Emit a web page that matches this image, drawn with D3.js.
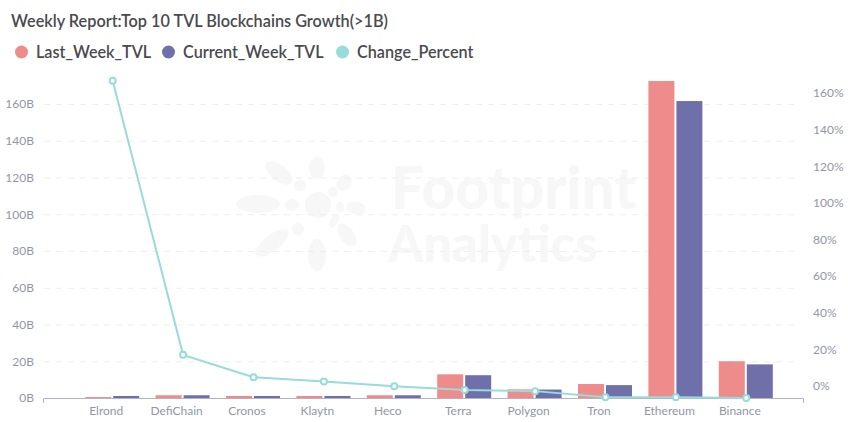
<!DOCTYPE html>
<html><head><meta charset="utf-8">
<script src="https://d3js.org/d3.v7.min.js"></script>
<style>
html,body{margin:0;padding:0;background:#fff;overflow:hidden}
svg{display:block;font-family:Lato,sans-serif}
.tick line,.domain{display:none}
</style></head><body>
<svg id="c" width="848" height="422"></svg>
<script>
const categories=["Elrond","DefiChain","Cronos","Klaytn","Heco","Terra","Polygon","Tron","Ethereum","Binance"];
const lastWeek=[0.5,1.5,1.1,1.1,1.5,12.9,4.7,7.6,172.5,20];
const currentWeek=[1.1,1.5,1.1,1.1,1.5,12.4,4.6,7,161.6,18.3];
const changePercent=[166.7,17,4.8,2.5,-0.1,-2.2,-2.8,-6.2,-6.2,-6.5];
const leftTicks=[0,20,40,60,80,100,120,140,160];
const rightTicks=[0,20,40,60,80,100,120,140,160];
const seriesNames=["Last_Week_TVL","Current_Week_TVL","Change_Percent"];
const colors=["#ee8b8b","#6f70a9","#98dbd9"];
const titleText="Weekly Report:Top 10 TVL Blockchains Growth(>1B)";

const svg=d3.select("#c");
const plotBottom=398;
const x=d3.scaleBand().domain(categories).range([77,781]);
const inner=d3.scaleBand().domain([0,1]).range([0,x.bandwidth()]).paddingInner(0.0714).paddingOuter(0.293);
const y=d3.scaleLinear().domain([0,160]).range([plotBottom,104]);
const yR=d3.scaleLinear().domain([0,160]).range([386,93]);

// watermark (decorative logo blobs: cx, cy, rx, ry, rotation)
const wm=svg.append("g").attr("fill","#f7f7f7");
const logoBlobs=[[279,173,16,8,38],[317,168,8,11,0],[344,183,7,9,35],[258,204,22,9,0],[292,205,7,6,0],
 [300,186,6,5,0],[318,205,13,13,0],[300,185,6,5,0],[333,192,5,5,40],[340,207,4,5,0],[356,208,10,6,10],
 [272,243,20,8,-38],[298,229,6,6,0],[334,221,4,7,30],[347,235,7,13,-35],[317,255,9,16,0]];
wm.selectAll("ellipse").data(logoBlobs).join("ellipse")
 .attr("transform",d=>`translate(${d[0]},${d[1]}) rotate(${d[4]})`)
 .attr("rx",d=>d[2]).attr("ry",d=>d[3]);
wm.append("text").attr("x",391).attr("y",209).attr("font-size",58.6).attr("font-weight",900).text("Footprint");
wm.append("text").attr("x",388).attr("y",262).attr("font-size",50.5).attr("font-weight",900).text("Analytics");

// grid
svg.append("g").selectAll("line").data(leftTicks.filter(d=>d>0)).join("line")
 .attr("x1",44).attr("x2",800).attr("y1",d=>y(d)+.5).attr("y2",d=>y(d)+.5)
 .attr("stroke","#eeeeee").attr("stroke-dasharray","6 6");

// bars
const groups=svg.append("g").selectAll("g").data(categories).join("g")
 .attr("transform",d=>`translate(${x(d)},0)`);
[lastWeek,currentWeek].forEach((vals,s)=>{
 groups.append("rect").attr("x",inner(s)).attr("width",inner.bandwidth())
  .attr("y",(d,i)=>y(vals[i])).attr("height",(d,i)=>plotBottom-y(vals[i])).attr("fill",colors[s]);
});

// base axis
const axisCol="#b3b2c0";
svg.append("path").attr("d",`M43.5,403V398.5H803.5V403`).attr("fill","none").attr("stroke",axisCol);

// axes
const txt="#9296a8";
const la=svg.append("g").attr("transform","translate(40,0)").call(d3.axisLeft(y).tickValues(leftTicks).tickSize(0).tickPadding(6).tickFormat(d=>d+"B"));
const ra=svg.append("g").attr("transform","translate(807,0)").call(d3.axisRight(yR).tickValues(rightTicks).tickSize(0).tickPadding(6).tickFormat(d=>d+"%"));
const ba=svg.append("g").attr("transform",`translate(-6,${plotBottom})`).call(d3.axisBottom(x).tickSize(0).tickPadding(8));
[la,ra,ba].forEach(g=>g.attr("font-family","Lato").attr("font-size",12).selectAll("text").attr("fill",txt));

// line
const pts=categories.map((c,i)=>[x(c)+x.bandwidth()/2+.5,yR(changePercent[i])]);
svg.append("path").attr("d",d3.line()(pts)).attr("fill","none").attr("stroke",colors[2]).attr("stroke-width",2);
svg.append("g").selectAll("circle").data(pts).join("circle")
 .attr("cx",d=>d[0]).attr("cy",d=>d[1]).attr("r",3).attr("fill","#fff").attr("stroke",colors[2]).attr("stroke-width",2);

// title + legend
svg.append("text").attr("x",11).attr("y",27).attr("font-size",16.25).attr("font-weight",600).attr("fill","#4a4a4f").text(titleText);
const legX=[21.5,168.5,342.5];
const leg=svg.append("g").selectAll("g").data(seriesNames).join("g").attr("transform",(d,i)=>`translate(${legX[i]},52)`);
leg.append("circle").attr("r",6.5).attr("fill",(d,i)=>colors[i]);
leg.append("text").attr("x",14.5).attr("y",6).attr("font-size",16.2).attr("font-weight",600).attr("fill","#4a4a4f").text(d=>d);
</script>
</body></html>
